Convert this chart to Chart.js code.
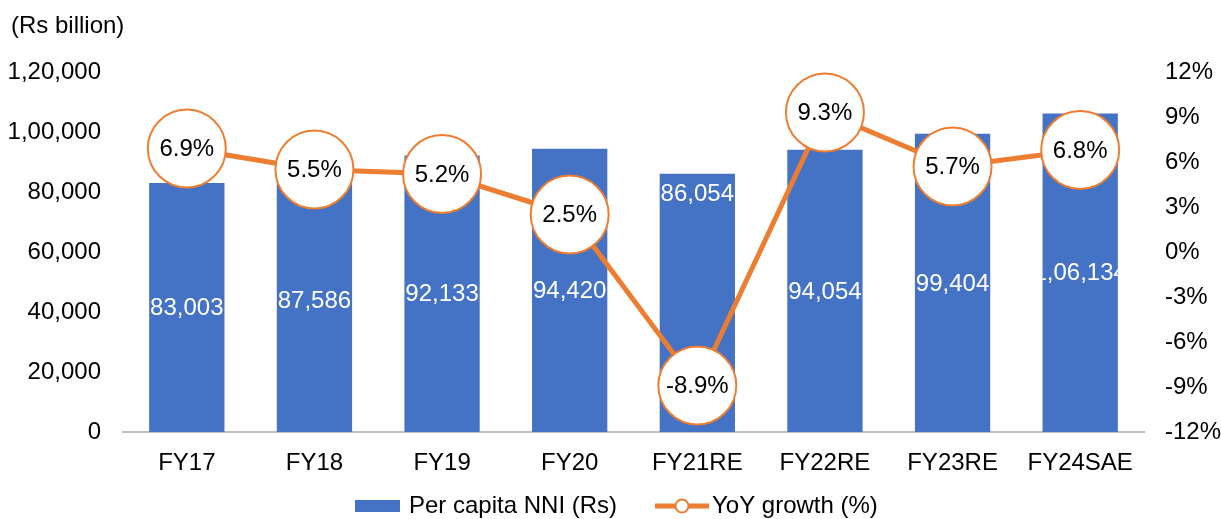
<!DOCTYPE html>
<html>
<head>
<meta charset="utf-8">
<script src="https://cdn.jsdelivr.net/npm/chart.js@4.4.1/dist/chart.umd.min.js"></script>
<style>
html, body { margin: 0; padding: 0; background: #fff; }
#wrap { width: 1221px; height: 519px; }
</style>
</head>
<body>
<div id="wrap"><canvas id="chart"></canvas></div>
<script>
const categories = ['FY17', 'FY18', 'FY19', 'FY20', 'FY21RE', 'FY22RE', 'FY23RE', 'FY24SAE'];
const perCapitaNNI = [83003, 87586, 92133, 94420, 86054, 94054, 99404, 106134];
const yoyGrowth = [6.9, 5.5, 5.2, 2.5, -8.9, 9.3, 5.7, 6.8];
const leftTicks = [0, 20000, 40000, 60000, 80000, 100000, 120000];
const rightTicks = [-12, -9, -6, -3, 0, 3, 6, 9, 12];

// where the value label sits in each bar
const barLabelPos = ['center', 'center', 'center', 'center', 'top', 'center', 'center', 'center'];

const BLUE = '#4472C4';
const ORANGE = '#ED7D31';
const FONT = '"Liberation Sans", Arial, sans-serif';
const FS = 24;

function indianFormat(n) {
    const s = String(Math.round(n));
    if (s.length <= 3) return s;
    let last3 = s.slice(-3);
    let rest = s.slice(0, -3);
    rest = rest.replace(/\B(?=(\d{2})+(?!\d))/g, ',');
    return rest + ',' + last3;
}

const labelsPlugin = {
    id: 'labels',
    afterDatasetsDraw(chart) {
        const ctx = chart.ctx;
        ctx.save();
        ctx.font = FS + 'px ' + FONT;
        ctx.textAlign = 'center';
        ctx.textBaseline = 'middle';

        // bar values, clipped to the bar
        const barMeta = chart.getDatasetMeta(1);
        barMeta.data.forEach((bar, i) => {
            const left = bar.x - bar.width / 2;
            const h = bar.base - bar.y;
            ctx.save();
            ctx.beginPath();
            ctx.rect(left, bar.y, bar.width, h);
            ctx.clip();
            ctx.fillStyle = '#fff';
            const y = barLabelPos[i] === 'top' ? bar.y + 21 : bar.y + h / 2 + 1;
            ctx.fillText(indianFormat(perCapitaNNI[i]), bar.x, y);
            ctx.restore();
        });

        // growth values in the circles
        const lineMeta = chart.getDatasetMeta(0);
        ctx.fillStyle = '#000';
        lineMeta.data.forEach((pt, i) => {
            ctx.fillText(yoyGrowth[i].toFixed(1) + '%', pt.x, pt.y + 1);
        });
        ctx.restore();
    },
    afterDraw(chart) {
        const ctx = chart.ctx;
        ctx.save();
        ctx.font = FS + 'px ' + FONT;
        ctx.fillStyle = '#000';
        ctx.textBaseline = 'middle';
        ctx.textAlign = 'left';
        ctx.fillText('(Rs billion)', 11, 26);

        // legend
        const ly = 506;
        let x = 355;
        ctx.fillStyle = BLUE;
        ctx.fillRect(x, ly - 6, 45, 12);
        x += 54;
        ctx.fillStyle = '#000';
        const t1 = chart.data.datasets[1].label;
        ctx.fillText(t1, x, ly);
        x = 655;
        ctx.strokeStyle = ORANGE;
        ctx.lineWidth = 5;
        ctx.beginPath();
        ctx.moveTo(x, ly);
        ctx.lineTo(x + 54, ly);
        ctx.stroke();
        ctx.beginPath();
        ctx.arc(x + 27, ly, 6.5, 0, Math.PI * 2);
        ctx.fillStyle = '#fff';
        ctx.fill();
        ctx.lineWidth = 2;
        ctx.stroke();
        x += 57;
        ctx.fillStyle = '#000';
        ctx.fillText(chart.data.datasets[0].label, x, ly);
        ctx.restore();
    }
};

new Chart(document.getElementById('chart'), {
    data: {
        labels: categories,
        datasets: [{
            type: 'line',
            label: 'YoY growth (%)',
            data: yoyGrowth,
            yAxisID: 'y1',
            borderColor: ORANGE,
            borderWidth: 5,
            pointRadius: 39,
            pointHoverRadius: 39,
            pointBackgroundColor: '#fff',
            pointBorderColor: ORANGE,
            pointBorderWidth: 2,
            tension: 0,
            order: 0
        }, {
            type: 'bar',
            label: 'Per capita NNI (Rs)',
            data: perCapitaNNI,
            yAxisID: 'y',
            backgroundColor: BLUE,
            categoryPercentage: 1,
            barPercentage: 0.59,
            order: 1
        }]
    },
    options: {
        responsive: true,
        maintainAspectRatio: false,
        animation: false,
        layout: { padding: { top: 72, left: 0, right: 0, bottom: 0 } },
        plugins: {
            legend: { display: false },
            tooltip: { enabled: false }
        },
        scales: {
            x: {
                grid: { display: false },
                border: { display: true, color: '#BFBFBF', width: 2 },
                ticks: { color: '#000', font: { family: FONT, size: FS }, padding: 9 },
                afterFit(scale) { scale.height = 87; }
            },
            y: {
                position: 'left',
                min: 0,
                max: 120000,
                grid: { display: false, drawTicks: false },
                border: { display: false },
                afterBuildTicks(scale) { scale.ticks = leftTicks.map(v => ({ value: v })); },
                ticks: {
                    color: '#000',
                    font: { family: FONT, size: FS },
                    padding: 22,
                    callback: v => indianFormat(v)
                },
                afterFit(scale) { scale.width = 123; }
            },
            y1: {
                position: 'right',
                min: -12,
                max: 12,
                grid: { display: false, drawTicks: false },
                border: { display: false },
                afterBuildTicks(scale) { scale.ticks = rightTicks.map(v => ({ value: v })); },
                ticks: {
                    color: '#000',
                    font: { family: FONT, size: FS },
                    padding: 21,
                    callback: v => v + '%'
                },
                afterFit(scale) { scale.width = 77; }
            }
        }
    },
    plugins: [labelsPlugin]
});
</script>
</body>
</html>
